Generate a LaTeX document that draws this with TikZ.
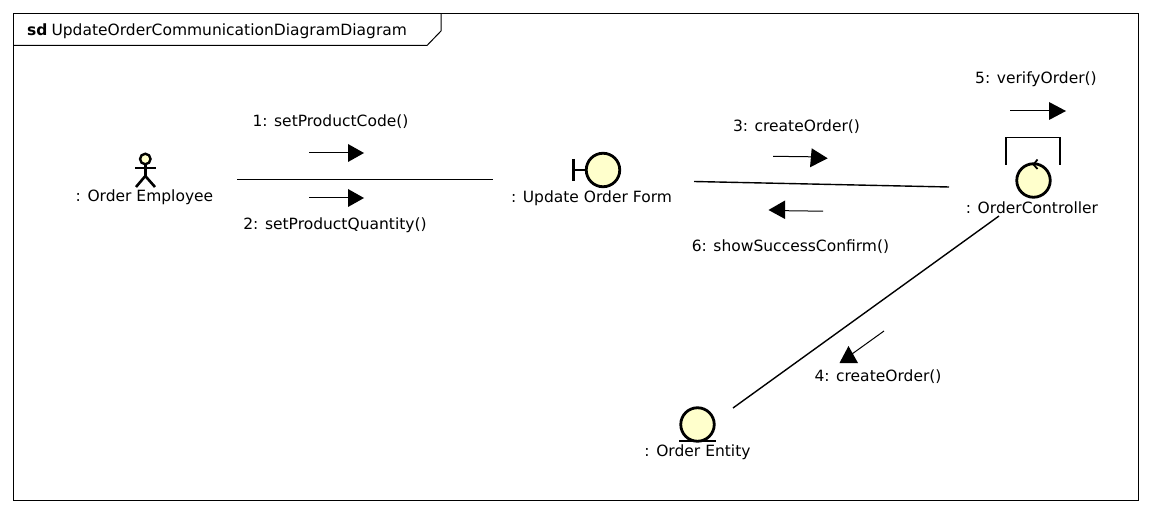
\documentclass[tikz,border=0pt]{standalone}
\usepackage{fontspec}
\setmainfont{DejaVu Sans}
\usetikzlibrary{arrows.meta}
\definecolor{lifefill}{RGB}{255,255,204}
\tikzset{
  x=1pt,y=-1pt,
  frameline/.style={draw=black,line width=1pt},
  link/.style={draw=black,line width=1.4pt},
  msgline/.style={draw=black,line width=1pt},
  tiphead/.style={fill=black,draw=none},
  icon/.style={circle,draw=black,fill=lifefill,line width=2.8pt,minimum size=33.5pt,inner sep=0pt},
  iconline/.style={draw=black,line width=2.6pt},
  lbl/.style={font=\fontsize{15.5pt}{17pt}\selectfont,inner sep=0pt,text=black,anchor=center},
}
\begin{document}
\begin{tikzpicture}
\useasboundingbox (0,0) rectangle (1152,513);
\fill[white] (0,0) rectangle (1152,513);
% frame
\draw[frameline] (13.5,13.5) rectangle (1138.5,500.5);
\draw[frameline] (13.5,45.5) -- (427,45.5) -- (441,31) -- (441,13.5);
\node[lbl,anchor=west] (title) at (27,31) {\textbf{sd}\hspace{4pt}UpdateOrderCommunicationDiagramDiagram};
% actor
\node[circle,draw=black,fill=lifefill,line width=2.4pt,minimum size=10.5pt,inner sep=0pt] (actor) at (145.3,159) {};
\coordinate (hip) at (145.3,176);
\draw[iconline] (actor.south) -- (hip);
\coordinate (armL) at (135,168); \coordinate (armR) at (156,168);
\draw[iconline] (armL) -- (armR);
\coordinate (legL) at (136,187); \coordinate (legR) at (155,187);
\draw[iconline] (legL) -- (hip) -- (legR);
\node[lbl] (employee) at (144.5,197.5) {: Order Employee};
% boundary
\node[icon] (form) at (603,170) {};
\coordinate (barT) at (573.5,159); \coordinate (barB) at (573.5,181); \coordinate (barM) at (573.5,170);
\draw[iconline] (barT) -- (barB);
\draw[iconline] (barM) -- (form.west);
\node[lbl] (formlbl) at (591.5,198.5) {: Update Order Form};
% control
\node[icon] (ctrl) at (1033.5,180.5) {};
\coordinate (tickA) at (1037.5,159.5); \coordinate (tickB) at (1033.5,164.5); \coordinate (tickC) at (1037.5,169);
\draw[draw=black,line width=1.8pt] (tickA) -- (tickB) -- (tickC);
\node[lbl] (ctrllbl) at (1032,207.5) {: OrderController};
% entity
\node[icon] (entity) at (697.5,424.5) {};
\coordinate (entL) at (679,441); \coordinate (entR) at (716,441);
\draw[iconline] (entL) -- (entR);
\node[lbl] (entlbl) at (697.5,452.5) {: Order Entity};
% links
\coordinate (l1a) at (237,179.5); \coordinate (l1b) at (493,179.5);
\draw[link] (l1a) -- (l1b);
\coordinate (l2a) at (694,181.5); \coordinate (l2b) at (949,187);
\draw[link] (l2a) -- (l2b);
\coordinate (l3a) at (999,216); \coordinate (l3b) at (733,408);
\draw[link] (l3a) -- (l3b);
\coordinate (s1) at (1006,165); \coordinate (s2) at (1006,137.5); \coordinate (s3) at (1060,137.5); \coordinate (s4) at (1060,165);
\draw[link] (s1) -- (s2) -- (s3) -- (s4);
% messages
\coordinate (m1a) at (309,153); \coordinate (m1b) at (349,153);
\draw[msgline] (m1a) -- (m1b);
\fill[tiphead] (348,144) -- (364,153) -- (348,162) -- cycle;
\node[lbl] (m1) at (330.5,121.5) {1: setProductCode()};
\coordinate (m2a) at (309,198); \coordinate (m2b) at (349,198);
\draw[msgline] (m2a) -- (m2b);
\fill[tiphead] (348,189) -- (364,198) -- (348,207) -- cycle;
\node[lbl] (m2) at (335,225.5) {2: setProductQuantity()};
\coordinate (m3a) at (773,156.3); \coordinate (m3b) at (812,156.8);
\draw[msgline] (m3a) -- (m3b);
\fill[tiphead] (811.7,148.3) -- (827.7,158.3) -- (810,167.3) -- cycle;
\node[lbl] (m3) at (796.5,126.5) {3: createOrder()};
\coordinate (m6a) at (823,211.2); \coordinate (m6b) at (785,210.7);
\draw[msgline] (m6a) -- (m6b);
\fill[tiphead] (785,200.5) -- (768.5,210) -- (785,219) -- cycle;
\node[lbl] (m6) at (790.5,246.5) {6: showSuccessConfirm()};
\coordinate (m5a) at (1010,111); \coordinate (m5b) at (1050,111);
\draw[msgline] (m5a) -- (m5b);
\fill[tiphead] (1049,102) -- (1066,111) -- (1049,120) -- cycle;
\node[lbl] (m5) at (1036,79.5) {5: verifyOrder()};
\coordinate (m4a) at (884,331); \coordinate (m4b) at (852,354);
\draw[msgline] (m4a) -- (m4b);
\fill[tiphead] (848.5,346) -- (858,363) -- (839.5,363) -- cycle;
\node[lbl] (m4) at (878,376.5) {4: createOrder()};
\end{tikzpicture}
\end{document}
